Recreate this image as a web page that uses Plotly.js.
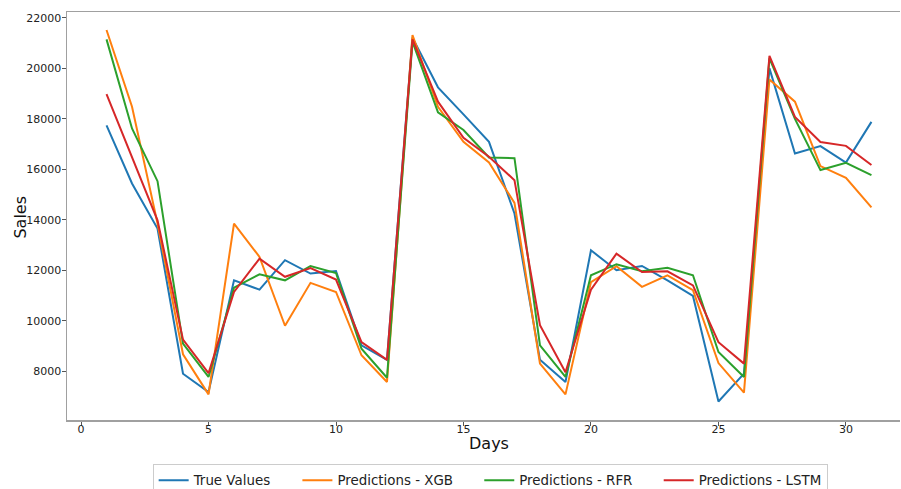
<!DOCTYPE html>
<html>
<head>
<meta charset="utf-8">
<script src="https://cdn.plot.ly/plotly-3.0.1.min.js"></script>
<style>html,body{margin:0;padding:0;overflow:hidden;background:#fff;width:901px;height:489px}#chart{width:901px;height:500px}</style>
</head>
<body>
<div id="chart"></div>
<script>
const days = [1,2,3,4,5,6,7,8,9,10,11,12,13,14,15,16,17,18,19,20,21,22,23,24,25,26,27,28,29,30,31];
const trueValues = [17740,15440,13650,7900,7170,11600,11230,12400,11870,11970,9020,8450,21220,19250,18180,17090,14250,8450,7570,12790,12000,12170,11600,10980,6800,7900,20000,16630,16920,16270,17880];
const predXGB = [21520,18480,13850,8670,7080,13850,12530,9800,11500,11140,8630,7570,21320,18480,17090,16270,14670,8300,7080,11530,12160,11340,11800,11210,8320,7150,19560,18680,16130,15660,14490];
const predRFR = [21150,17620,15530,9090,7770,11310,11840,11600,12170,11890,8890,7740,21060,18260,17560,16470,16440,9020,7770,11800,12240,11960,12100,11800,8760,7770,20400,18000,15970,16260,15770];
const predLSTM = [18980,16500,13980,9250,7920,11140,12460,11740,12090,11630,9150,8450,21150,18680,17250,16500,15570,9820,7960,11230,12660,11930,11960,11400,9150,8300,20500,18080,17080,16930,16170];

const names = ['True Values','Predictions - XGB','Predictions - RFR','Predictions - LSTM'];
const yTicks = [8000,10000,12000,14000,16000,18000,20000,22000];
const xTicks = [0,5,10,15,20,25,30];
const xTitle = 'Days';
const yTitle = 'Sales';
const series = [trueValues, predXGB, predRFR, predLSTM];
const colors = ['#1f77b4','#ff7f0e','#2ca02c','#d62728'];
const pad = '\u00a0\u00a0\u00a0\u00a0\u00a0';

const traces = series.map((s,i)=>({
  x: days, y: s, type:'scatter', mode:'lines',
  name: names[i] + (i < series.length-1 ? pad : ''),
  line:{color:colors[i], width:2}
}));

const layout = {
  width:901, height:500,
  margin:{l:67, r:1, t:12, b:80},
  paper_bgcolor:'#fff', plot_bgcolor:'#fff',
  font:{family:'DejaVu Sans, sans-serif', color:'#222', size:11},
  showlegend:true,
  xaxis:{
    range:[-0.55, 32.12], tickvals:xTicks, ticktext:xTicks.map(String),
    showgrid:false, zeroline:false, showline:true, mirror:true, linecolor:'#a0a0a0', linewidth:1.5,
    ticks:'outside', ticklen:4, tickcolor:'#555', tickfont:{size:11, color:'#222'},
    ticklabelstandoff:-6
  },
  yaxis:{
    range:[6065, 22235], tickvals:yTicks, ticktext:yTicks.map(String),
    showgrid:false, zeroline:false, showline:true, mirror:false, linecolor:'#a0a0a0', linewidth:1.5,
    ticks:'outside', ticklen:4, tickcolor:'#555', tickfont:{size:11, color:'#222'},
    ticklabelstandoff:-2
  },
  annotations:[
    {text:xTitle, xref:'paper', yref:'paper', x:0.5066, y:-0.0564, xanchor:'center', yanchor:'middle',
     showarrow:false, font:{size:16, color:'#111'}},
    {text:yTitle, xref:'paper', yref:'paper', x:-0.0558, y:0.4975, xanchor:'center', yanchor:'middle',
     textangle:-90, showarrow:false, font:{size:16, color:'#111'}}
  ],
  legend:{
    orientation:'h', x:0.508, xanchor:'center', y:-0.1078, yanchor:'top',
    bordercolor:'#cccccc', borderwidth:1, bgcolor:'#fff',
    font:{size:13.4, color:'#222'}, itemwidth:30
  }
};

Plotly.newPlot('chart', traces, layout, {displayModeBar:false, staticPlot:true});
</script>
</body>
</html>
